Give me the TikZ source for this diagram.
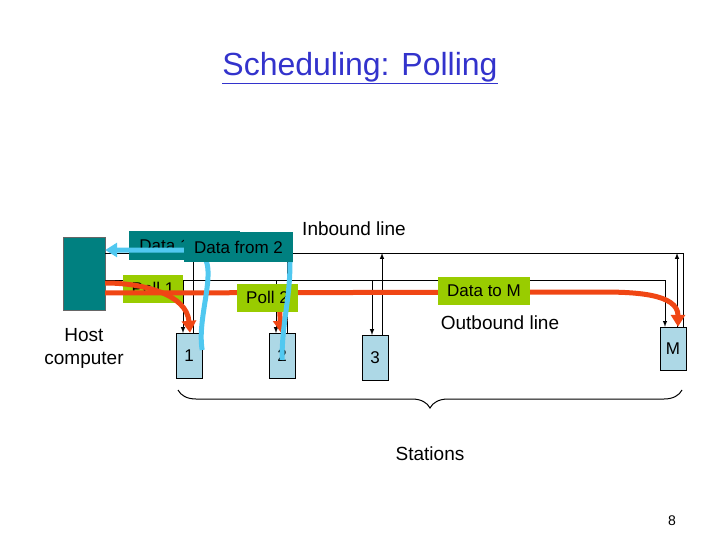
\documentclass[tikz,border=0pt]{standalone}
\usepackage{fontspec}
\setmainfont{Liberation Sans}
\usetikzlibrary{arrows.meta,decorations.pathreplacing}
\definecolor{hostcol}{RGB}{0,128,128}
\definecolor{stacol}{RGB}{173,216,230}
\definecolor{pollcol}{RGB}{153,204,0}
\definecolor{redcol}{RGB}{240,70,20}
\definecolor{bluecol}{RGB}{80,200,240}
\definecolor{titlecol}{RGB}{51,51,204}
\tikzset{
  station/.style={draw,fill=stacol,minimum width=26pt,minimum height=45pt,inner sep=0pt,font=\fontsize{17}{19}\selectfont},
  msg/.style={fill=#1,inner sep=0pt,minimum height=28pt,font=\fontsize{17}{19}\selectfont},
  txt/.style={font=\fontsize{19}{23}\selectfont,align=center},
  line/.style={line width=1pt},
  red flow/.style={line width=5pt,draw=redcol,-{Triangle[length=12pt,width=14pt]}},
  blue flow/.style={line width=5pt,draw=bluecol,-{Triangle[length=12pt,width=14pt]}},
}
\begin{document}
\begin{tikzpicture}[x=1pt,y=-1pt,>=latex]
\useasboundingbox (0,0) rectangle (720,540);
%% title
\node (title) [font=\fontsize{32}{36}\selectfont,text=titlecol] at (360,68) {\underline{Scheduling: Polling}};
%% host and stations
\node (host) [fill=hostcol,draw=black!60,minimum width=42pt,minimum height=73pt,inner sep=0pt] at (84,273.5) {};
\node (hosttxt) [txt] at (84,348) {Host\\computer};
\node (s1) [station] at (189,355.5) {1};
\node (s2) [station] at (282,355.5) {2};
\node (s3) [station] at (375,357.5) {3};
\node (sm) [station,minimum height=43pt] at (673,348.5) {M};
%% lines
\coordinate (inR) at (683,253);
\coordinate (outR) at (665,280);
\draw[line] (host.east |- 0,253) -- (inR) -- (inR |- sm.north);
\draw[line,->] (s1.north -| 193,0) -- (193,253);
\draw[line,->] (s2.north -| 287,0) -- (287,253);
\draw[line,->] (s3.north -| 382,0) -- (382,253);
\draw[line,->] (677,327) -- (677,253);
\draw[line] (host.east |- 0,280) -- (outR);
\draw[line,->] (outR) -- (outR |- sm.north);
\draw[line,->] (183,280) -- (183,333);
\draw[line,->] (276,280) -- (276,333);
\draw[line,->] (372,280) -- (372,335);
\node (inlbl) [txt] at (354,229) {Inbound line};
\node (outlbl) [txt] at (500,323) {Outbound line};
%% messages
\node (poll1) [msg=pollcol,minimum width=60pt] at (153,288.5) {Poll 1};
\draw[red flow] (host.east |- 0,283) to[out=0,in=95] (s1.north -| 190,0);
\draw[red flow] (host.east |- 0,293) -- (600,292) to[out=0,in=90] (sm.north -| 678,0);
\draw[red flow] (279,300) -- (s2.north -| 281,0);
\node (poll2) [msg=pollcol,minimum width=61pt] at (267.5,297.5) {Poll 2};
\node (datam) [msg=pollcol,minimum width=92pt] at (484,291) {Data to M};
\node (data1) [msg=hostcol,minimum width=111pt,text depth=0pt] at (184.5,245.5) {\hspace*{-40pt}Data 1};
\draw[blue flow] (s1.east |- 0,350) to[out=100,in=0] (188,250) -- (host.east |- 0,250);
\draw[line width=5pt,draw=bluecol] (s2.center |- 0,360) to[out=90,in=-90] (290,262) -- (290,245);
\node (data2) [msg=hostcol,minimum width=109pt,minimum height=30pt] at (238.5,247) {Data from 2};
%% brace
\draw[line,decorate,decoration={brace,mirror,amplitude=18pt}] (178,390) -- (682,390);
\node (stations) [txt] at (430,454) {Stations};
\node (page) [font=\fontsize{14}{16}\selectfont] at (672,521) {8};
\end{tikzpicture}
\end{document}
